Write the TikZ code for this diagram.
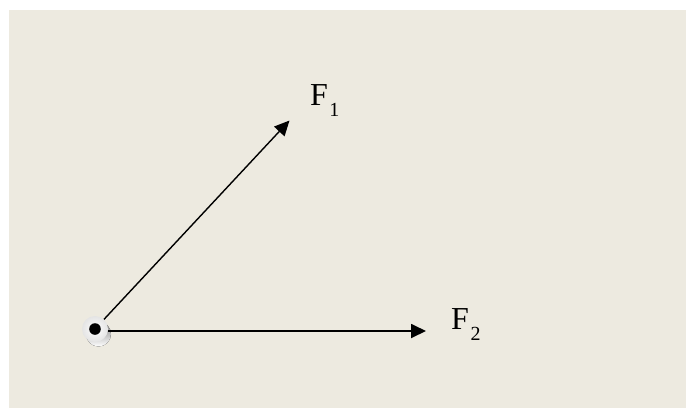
\documentclass[tikz,border=0pt]{standalone}
\usepackage{fontspec}
\setmainfont{Liberation Serif}
\usetikzlibrary{arrows.meta}
\definecolor{bgtan}{HTML}{EDEAE0}
\definecolor{shade}{HTML}{A9A9A9}
\definecolor{disc}{HTML}{E4E4E4}
\tikzset{
  vec/.style={draw=black, -{Triangle[length=15pt,width=14pt]}},
  flabel/.style={anchor=base west, inner sep=0pt, font=\fontsize{32}{32}\selectfont},
}
\newcommand{\forcesub}[1]{\hspace{1.5pt}\raisebox{-11pt}{\fontsize{20}{20}\selectfont #1}}
\begin{document}
\begin{tikzpicture}[x=1pt,y=-1pt]
\useasboundingbox (0,0) rectangle (686,408);
\fill[bgtan] (9,9.5) rectangle (686,408);
% pivot point
\fill[shade] (98.5,334) circle[radius=12.5];
\node[circle, inner color=white, outer color=disc, minimum size=26pt, inner sep=0pt] (O) at (95,329) {};
\fill[black] (O.center) circle[radius=5.8];
% tips
\coordinate (t1) at (289.5,120.5);
\coordinate (t2) at (426,331);
\coordinate (s2) at (108,331);
\draw[vec, line width=1.4pt] (O) -- (t1);
\draw[vec, line width=1.8pt] (s2) -- (t2);
% labels
\node[flabel] (L1) at (310,105) {F\forcesub{1}};
\node[flabel] (L2) at (451,329.5) {F\forcesub{2}};
\end{tikzpicture}
\end{document}
